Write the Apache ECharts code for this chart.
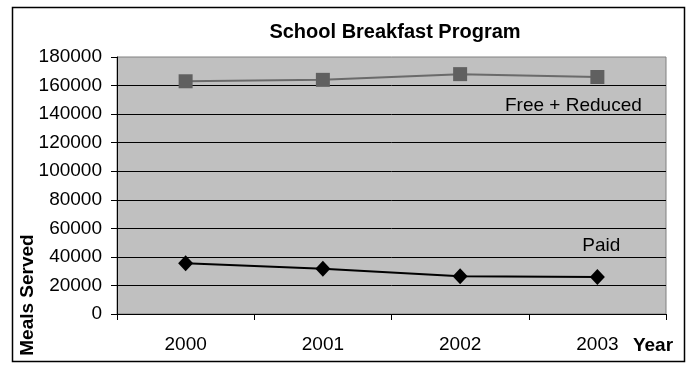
<!DOCTYPE html>
<html>
<head>
<meta charset="utf-8">
<script src="https://cdn.jsdelivr.net/npm/echarts@6/dist/echarts.min.js"></script>
<style>
  html, body { margin: 0; padding: 0; background: #fff; }
  #chart { width: 689px; height: 365px; }
</style>
</head>
<body>
<div id="chart"></div>
<script>
// School breakfast meals served per year
const years = ['2000', '2001', '2002', '2003'];
const freeReduced = [163000, 164000, 168000, 166000];
const paid = [35500, 31700, 26400, 25900];
const yTicks = { min: 0, max: 180000, interval: 20000 };

const FONT = '"Liberation Sans", Arial, sans-serif';

// Label only the last point of a series with its name
function withEndLabel(values, text, offset) {
  return values.map((v, i) => i === values.length - 1
    ? { value: v, label: { show: true, formatter: text, offset: offset, position: 'inside',
        color: '#000', fontSize: 19, fontFamily: FONT } }
    : v);
}

const chart = echarts.init(document.getElementById('chart'));
chart.setOption({
  animation: false,
  backgroundColor: '#fff',
  title: {
    text: 'School Breakfast Program',
    left: 390, top: 17, textAlign: 'center',
    textStyle: { fontFamily: FONT, fontSize: 20, fontWeight: 'bold', color: '#000' }
  },
  grid: {
    left: 117, right: 23, top: 57, bottom: 51,
    show: true, backgroundColor: '#c0c0c0', borderColor: '#808080', borderWidth: 1
  },
  xAxis: {
    type: 'category',
    data: years,
    boundaryGap: true,
    axisLine: { lineStyle: { color: '#000', width: 1 } },
    axisTick: { show: true, length: 6, lineStyle: { color: '#000' } },
    axisLabel: { margin: 21, color: '#000', fontSize: 19, fontFamily: FONT }
  },
  yAxis: {
    type: 'value',
    min: yTicks.min, max: yTicks.max, interval: yTicks.interval,
    axisLine: { show: true, lineStyle: { color: '#000', width: 1 } },
    axisTick: { show: true, length: 6, lineStyle: { color: '#000' } },
    axisLabel: { margin: 15, color: '#000', fontSize: 19, fontFamily: FONT,
      formatter: v => String(v) },
    splitLine: { show: true, showMaxLine: false, lineStyle: { color: '#000', width: 1 } }
  },
  series: [
    {
      name: 'Free + Reduced',
      type: 'line',
      data: withEndLabel(freeReduced, 'Free + Reduced', [-24, 29]),
      symbol: 'rect', symbolSize: 14,
      itemStyle: { color: '#606060' },
      lineStyle: { color: '#6a6a6a', width: 2 }
    },
    {
      name: 'Paid',
      type: 'line',
      data: withEndLabel(paid, 'Paid', [4, -31]),
      symbol: 'diamond', symbolSize: [15, 16],
      itemStyle: { color: '#000' },
      lineStyle: { color: '#000', width: 2 }
    }
  ],
  graphic: [
    {
      type: 'rect', silent: true, z: -1,
      shape: { x: 12.5, y: 7.5, width: 672, height: 354 },
      style: { fill: 'none', stroke: '#000', lineWidth: 1.5 }
    },
    {
      type: 'text', x: 28, y: 295, rotation: Math.PI / 2,
      style: { text: 'Meals Served', fontFamily: FONT, fontSize: 19, fontWeight: 'bold',
        fill: '#000', align: 'center', verticalAlign: 'middle' }
    },
    {
      type: 'text', x: 653, y: 346,
      style: { text: 'Year', fontFamily: FONT, fontSize: 19, fontWeight: 'bold',
        fill: '#000', align: 'center', verticalAlign: 'middle' }
    }
  ]
});
</script>
</body>
</html>
